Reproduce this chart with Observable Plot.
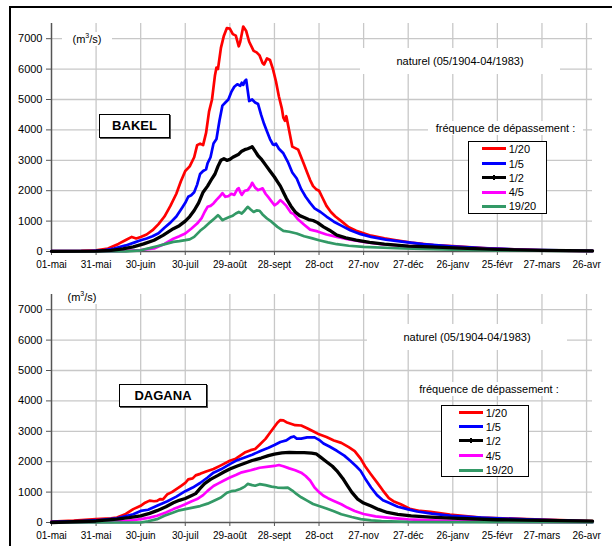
<!DOCTYPE html>
<html><head><meta charset="utf-8">
<script src="https://cdn.jsdelivr.net/npm/d3@7"></script>
<script src="https://cdn.jsdelivr.net/npm/@observablehq/plot@0.6"></script>
<style>
body{margin:0;background:#fff;font-family:"Liberation Sans",Arial,sans-serif;}
#page{position:relative;width:612px;height:546px;overflow:hidden;background:#fff;}
.panel{position:absolute;left:0;}
.frame{position:absolute;left:9px;top:6px;width:800px;height:800px;border-top:2px solid #000;border-left:2px solid #000;pointer-events:none;}
.lbl{position:absolute;font-size:11px;background:#fff;white-space:nowrap;text-align:center;color:#000;}
.station{position:absolute;border:1px solid #000;box-shadow:1px 1px 0 #555;background:#fff;font-weight:bold;font-size:13px;text-align:center;box-sizing:border-box;}
.legend{position:absolute;border:1px solid #000;background:#fff;box-sizing:border-box;}
.row{position:absolute;left:0;font-size:11px;height:14px;line-height:14px;white-space:nowrap;}
.sw{position:absolute;height:3px;}
</style>
</head><body><div id="page"></div>
<script>
// ---- axis ticks ----
const tickDays = [0,30,60,90,120,150,180,210,240,270,300,330,360];
const tickLabels = ["01-mai","31-mai","30-juin","30-juil","29-août","28-sept","28-oct","27-nov","27-déc","26-janv","25-févr","27-mars","26-avr"];
const yTicks = [0,1000,2000,3000,4000,5000,6000,7000];

// ---- series (legend) ----
const seriesKeys = ["1/20","1/5","1/2","4/5","19/20"];
const seriesColors = ["#ff0000","#0000ff","#000000","#ff00ff","#339966"];

// ---- BAKEL: [day since 01-mai, discharge m3/s] ----
const bakel_1_20 = [[0,15],[20,20],[30,40],[38,100],[45,250],[50,380],[54,480],[57,430],[60,480],[64,560],[68,700],[72,900],[76,1150],[80,1500],[84,1900],[87,2300],[90,2650],[93,2800],[96,3100],[98,3500],[100,3550],[102,3500],[104,3900],[106,4600],[108,5000],[110,5800],[111,6050],[112,6000],[114,6700],[116,7100],[118,7350],[120,7330],[122,7150],[124,7100],[126,6750],[127,6900],[129,7400],[131,7250],[133,6900],[136,6600],[138,6550],[140,6450],[142,6200],[143,6150],[145,6350],[147,6300],[149,6000],[151,5600],[153,5100],[155,4700],[156,4400],[157,4300],[158,4450],[159,4200],[161,3700],[162,3450],[164,3400],[166,3350],[168,3100],[170,2850],[172,2600],[174,2350],[176,2150],[178,2050],[180,2000],[182,1800],[185,1500],[188,1300],[191,1150],[195,1000],[200,800],[205,680],[210,600],[215,520],[224,430],[232,370],[242,290],[257,210],[270,180],[293,100],[324,45],[345,30],[364,20]];
const bakel_1_5 = [[0,10],[25,15],[35,40],[42,100],[50,200],[56,300],[60,370],[64,430],[68,500],[72,600],[76,780],[80,950],[84,1150],[88,1450],[90,1600],[92,1800],[94,1850],[96,1950],[98,2200],[100,2550],[102,2650],[104,2700],[105,2900],[107,3100],[109,3550],[111,3700],[113,4300],[115,4800],[117,4900],[119,5000],[121,5250],[123,5420],[125,5500],[127,5450],[128,5550],[129,5480],[130,5600],[131,5650],[132,5300],[133,4950],[135,5000],[137,4900],[139,4850],[141,4500],[143,4200],[145,3950],[147,3700],[149,3520],[150,3500],[151,3550],[153,3380],[156,3230],[159,2950],[162,2600],[165,2400],[168,2050],[171,1800],[174,1600],[177,1420],[181,1300],[185,1150],[190,980],[195,850],[201,700],[208,570],[215,480],[225,390],[237,316],[250,240],[269,170],[290,110],[320,55],[364,20]];
const bakel_1_2 = [[0,5],[30,10],[40,40],[48,90],[55,150],[62,250],[69,370],[75,530],[82,750],[86,850],[90,1000],[93,1150],[96,1350],[99,1600],[102,1950],[105,2150],[108,2400],[110,2550],[112,2800],[114,3000],[116,3050],[118,3000],[120,3030],[122,3100],[124,3150],[126,3200],[128,3300],[130,3350],[132,3380],[134,3420],[135,3450],[137,3300],[139,3150],[141,3050],[144,2850],[147,2650],[150,2450],[152,2300],[154,2150],[156,1950],[158,1750],[161,1500],[164,1300],[167,1180],[170,1120],[173,1050],[176,1020],[179,950],[183,810],[187,700],[192,540],[198,450],[205,372],[214,300],[224,240],[240,180],[255,150],[280,100],[300,70],[330,40],[364,20]];
const bakel_4_5 = [[0,0],[40,5],[50,20],[60,50],[69,100],[76,250],[82,420],[86,500],[90,590],[94,750],[98,920],[101,1100],[103,1300],[105,1470],[107,1500],[109,1580],[111,1700],[113,1800],[115,1920],[117,1800],[119,1820],[121,1900],[123,1860],[125,2050],[126,2080],[127,1950],[128,1860],[130,2000],[132,2020],[134,2150],[135,2260],[137,2100],[139,2020],[141,2060],[142,2080],[144,1900],[146,1780],[148,1650],[150,1520],[152,1580],[154,1690],[156,1600],[158,1500],[161,1280],[163,1230],[166,1050],[170,880],[174,720],[179,660],[185,560],[192,480],[200,400],[210,316],[222,240],[237,185],[260,130],[300,80],[330,40],[364,15]];
const bakel_19_20 = [[0,0],[50,5],[60,40],[66,110],[71,175],[77,250],[82,316],[86,340],[90,372],[93,400],[96,480],[100,680],[103,800],[107,975],[110,1100],[112,1195],[113,1150],[115,1030],[117,1080],[120,1140],[122,1180],[124,1250],[126,1300],[128,1250],[130,1350],[132,1470],[134,1380],[136,1300],[138,1350],[140,1340],[142,1220],[145,1085],[148,980],[152,810],[156,680],[160,650],[165,593],[170,500],[175,440],[180,370],[186,300],[192,240],[200,190],[210,150],[237,99],[270,60],[300,40],[364,15]];

// ---- DAGANA ----
const dagana_1_20 = [[0,30],[15,60],[30,110],[40,140],[44,165],[50,280],[55,440],[60,550],[63,650],[66,720],[69,700],[71,710],[73,770],[75,760],[78,930],[81,1000],[84,1100],[87,1200],[90,1300],[92,1420],[95,1450],[97,1550],[100,1600],[104,1680],[109,1760],[114,1880],[120,2030],[124,2100],[127,2200],[130,2300],[134,2380],[137,2420],[140,2560],[144,2750],[147,2950],[150,3150],[152,3280],[154,3370],[156,3360],[158,3300],[161,3250],[164,3200],[168,3190],[172,3100],[176,3000],[180,2900],[185,2810],[190,2700],[195,2620],[200,2480],[204,2350],[208,2100],[211,1850],[215,1580],[219,1320],[223,1050],[227,800],[230,700],[235,600],[241,450],[248,380],[255,350],[268,260],[289,165],[320,110],[364,50]];
const dagana_1_5 = [[0,20],[20,50],[30,75],[44,140],[55,270],[60,380],[65,420],[71,550],[78,700],[84,850],[90,1030],[95,1150],[100,1300],[105,1480],[109,1640],[114,1750],[120,1920],[125,2050],[130,2140],[135,2230],[141,2360],[146,2460],[150,2550],[154,2650],[158,2700],[161,2800],[163,2830],[165,2760],[168,2760],[172,2800],[177,2800],[180,2720],[183,2600],[187,2500],[192,2360],[197,2200],[201,2030],[205,1850],[208,1700],[211,1450],[215,1150],[219,900],[223,730],[227,650],[233,520],[240,430],[246,363],[256,290],[269,220],[289,160],[320,100],[364,40]];
const dagana_1_2 = [[0,0],[30,50],[44,110],[52,160],[60,220],[66,300],[71,390],[77,520],[82,650],[86,730],[90,790],[94,880],[97,950],[100,1120],[103,1280],[107,1420],[112,1550],[116,1660],[120,1760],[125,1860],[130,1950],[135,2040],[141,2120],[146,2200],[150,2250],[155,2290],[160,2310],[165,2300],[170,2300],[175,2280],[178,2260],[181,2150],[185,2000],[189,1850],[192,1700],[196,1450],[199,1220],[202,1000],[206,770],[210,640],[215,540],[220,430],[226,330],[233,270],[242,220],[255,180],[269,145],[300,90],[364,45]];
const dagana_4_5 = [[0,0],[40,20],[50,50],[60,110],[66,160],[71,220],[77,330],[82,440],[86,520],[90,600],[94,690],[98,770],[102,900],[105,1040],[109,1200],[112,1280],[116,1380],[120,1480],[124,1560],[128,1650],[134,1720],[140,1800],[146,1840],[150,1860],[153,1890],[156,1850],[160,1780],[164,1720],[168,1640],[171,1530],[174,1380],[177,1150],[180,1000],[183,880],[186,800],[190,710],[195,600],[199,490],[204,380],[210,280],[218,200],[226,160],[240,100],[260,60],[300,20],[364,5]];
const dagana_19_20 = [[0,0],[60,0],[65,40],[71,110],[76,220],[82,330],[86,400],[90,440],[95,490],[100,540],[105,620],[109,710],[114,820],[118,980],[121,1030],[124,1050],[127,1100],[130,1180],[132,1270],[135,1230],[137,1210],[140,1260],[144,1230],[148,1180],[152,1150],[156,1140],[159,1150],[162,1050],[165,930],[168,830],[172,720],[176,610],[180,540],[185,460],[190,370],[195,270],[202,180],[208,110],[215,70],[222,50],[240,20],[364,0]];

const FONT = '"Liberation Sans", Arial, sans-serif';
const drawOrder = [0,1,3,4,2]; // black drawn last (on top)

function makePanel(seriesArrays, h, mt, mb) {
  const data = [];
  seriesArrays.forEach((arr, i) => arr.forEach(([d, v]) => data.push({day: d, q: v, key: seriesKeys[i]})));
  const lineMarks = drawOrder.map(i => Plot.line(data.filter(r => r.key === seriesKeys[i]), {
    x: "day", y: "q", stroke: seriesColors[i], strokeWidth: i === 2 ? 3.3 : 2.7,
    strokeLinejoin: "round", curve: "linear"
  }));
  return Plot.plot({
    width: 612, height: h,
    marginLeft: 51, marginRight: 20, marginTop: mt, marginBottom: mb,
    style: {fontFamily: FONT, fontSize: "10px", color: "#000", background: "transparent"},
    x: {domain: [0, 364], label: null},
    y: {domain: [0, 7500], label: null},
    marks: [
      Plot.gridY(yTicks.slice(1), {stroke: "#c8c8c8", strokeOpacity: 1, strokeWidth: 1.3}),
      Plot.gridX(tickDays.slice(1), {stroke: "#c8c8c8", strokeOpacity: 1, strokeWidth: 1.3}),
      Plot.ruleX([0], {stroke: "#555", strokeWidth: 1.5}),
      Plot.ruleY([0], {stroke: "#555", strokeWidth: 1.5}),
      Plot.axisY(yTicks, {tickSize: 5, tickPadding: 4, stroke: "#555", fontSize: 11, tickFormat: d => String(d)}),
      Plot.axisX(tickDays, {tickSize: 4, tickPadding: 5, stroke: "#555", fontSize: 10, tickFormat: d => tickLabels[tickDays.indexOf(d)]}),
      ...lineMarks
    ]
  });
}

const page = document.getElementById("page");
function addPanel(svg, top) {
  const div = document.createElement("div");
  div.className = "panel"; div.style.top = top + "px";
  div.appendChild(svg); page.appendChild(div);
}
addPanel(makePanel([bakel_1_20, bakel_1_5, bakel_1_2, bakel_4_5, bakel_19_20], 270, 23, 19), 0);
addPanel(makePanel([dagana_1_20, dagana_1_5, dagana_1_2, dagana_4_5, dagana_19_20], 276, 24, 24), 270);

function el(cls, css, html) {
  const d = document.createElement("div");
  d.className = cls; Object.assign(d.style, css); if (html != null) d.innerHTML = html;
  page.appendChild(d); return d;
}
function legend(left, top, w, h, swL, swW, lblL, rowsY) {
  const box = el("legend", {left: left + "px", top: top + "px", width: w + "px", height: h + "px"});
  seriesKeys.forEach((k, i) => {
    const sw = document.createElement("div");
    sw.className = "sw";
    Object.assign(sw.style, {left: swL + "px", width: swW + "px", top: (rowsY[i] - 1.5) + "px", background: seriesColors[i]});
    box.appendChild(sw);
    if (i === 2) {
      const dot = document.createElement("div");
      Object.assign(dot.style, {position: "absolute", left: (swL + swW / 2 - 1) + "px", top: (rowsY[i] - 2.5) + "px", width: "2px", height: "5px", background: "#000"});
      box.appendChild(dot);
    }
    const t = document.createElement("div");
    t.className = "row"; t.textContent = k;
    Object.assign(t.style, {left: lblL + "px", top: (rowsY[i] - 7) + "px"});
    box.appendChild(t);
  });
}

// top panel annotations
el("lbl", {left: "62px", top: "32px", width: "50px", height: "14px", lineHeight: "14px"}, "(m<sup style='font-size:7px;line-height:0'>3</sup>/s)");
el("lbl", {left: "360px", top: "48px", width: "200px", height: "26px", lineHeight: "26px"}, "naturel (05/1904-04/1983)");
el("lbl", {left: "428px", top: "121px", width: "155px", height: "14px", lineHeight: "14px"}, "fréquence de dépassement :");
el("station", {left: "99px", top: "114px", width: "71px", height: "24px", lineHeight: "22px"}, "BAKEL");
legend(467.7, 141, 79, 72.5, 13, 24, 40, [6.5, 21.5, 35.5, 50, 64]);

// bottom panel annotations
el("lbl", {left: "60px", top: "290px", width: "44px", height: "14px", lineHeight: "14px"}, "(m<sup style='font-size:7px;line-height:0'>3</sup>/s)");
el("lbl", {left: "367px", top: "324px", width: "200px", height: "26px", lineHeight: "26px"}, "naturel (05/1904-04/1983)");
el("lbl", {left: "411px", top: "382px", width: "156px", height: "14px", lineHeight: "14px"}, "fréquence de dépassement :");
el("station", {left: "119px", top: "384px", width: "88px", height: "23px", lineHeight: "21px"}, "DAGANA");
legend(440.7, 404.7, 88, 72.6, 17, 24.5, 44, [7, 21, 35.3, 50.3, 64.6]);

el("frame", {});
</script>
</body></html>
